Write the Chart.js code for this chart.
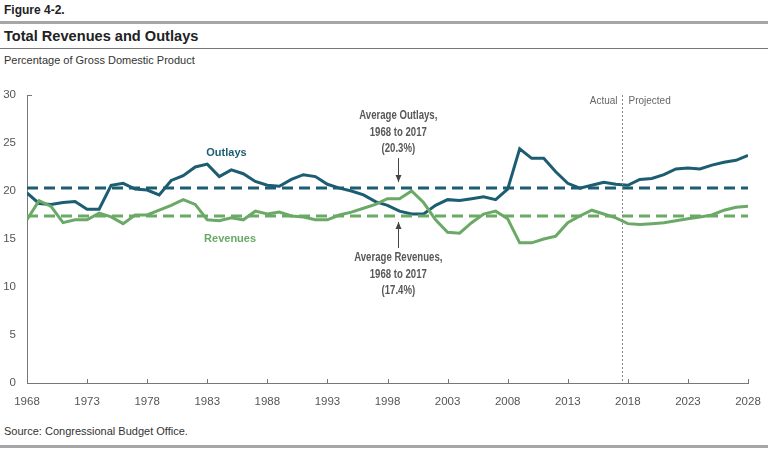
<!DOCTYPE html>
<html>
<head>
<meta charset="utf-8">
<script src="https://cdn.jsdelivr.net/npm/chart.js@4"></script>
<style>
  html, body { margin: 0; padding: 0; background: #fff; }
  body { width: 768px; height: 450px; position: relative; overflow: hidden;
         font-family: "Liberation Sans", Arial, sans-serif; }
  .fig { position: absolute; left: 4px; top: 3px; font-size: 12px; font-weight: bold; color: #222; }
  .rule1 { position: absolute; left: 0; right: 0; top: 21px; height: 3px; background: #a6a6a6; }
  .title { position: absolute; left: 4px; top: 28px; font-size: 14.6px; font-weight: bold; color: #222; }
  .rule2 { position: absolute; left: 0; right: 0; top: 48px; height: 1px; background: #777; }
  .sub { position: absolute; left: 4px; top: 54px; font-size: 11px; color: #333; }
  .src { position: absolute; left: 4px; top: 425px; font-size: 11px; color: #333; }
  .rule3 { position: absolute; left: 0; right: 0; top: 445px; height: 3px; background: #a6a6a6; }
  #c { position: absolute; left: 0; top: 0; }
</style>
</head>
<body>
<div class="fig">Figure 4-2.</div>
<div class="rule1"></div>
<div class="title">Total Revenues and Outlays</div>
<div class="rule2"></div>
<div class="sub">Percentage of Gross Domestic Product</div>
<div class="src">Source: Congressional Budget Office.</div>
<div class="rule3"></div>
<canvas id="c" width="768" height="450"></canvas>
<script>
const years = [1968, 1969, 1970, 1971, 1972, 1973, 1974, 1975, 1976, 1977,
  1978, 1979, 1980, 1981, 1982, 1983, 1984, 1985, 1986, 1987,
  1988, 1989, 1990, 1991, 1992, 1993, 1994, 1995, 1996, 1997,
  1998, 1999, 2000, 2001, 2002, 2003, 2004, 2005, 2006, 2007,
  2008, 2009, 2010, 2011, 2012, 2013, 2014, 2015, 2016, 2017,
  2018, 2019, 2020, 2021, 2022, 2023, 2024, 2025, 2026, 2027, 2028];

const outlays = [19.8, 18.7, 18.6, 18.8, 18.9, 18.1, 18.1, 20.6, 20.8, 20.2,
  20.1, 19.6, 21.1, 21.6, 22.5, 22.8, 21.5, 22.2, 21.8, 21.0,
  20.6, 20.5, 21.2, 21.7, 21.5, 20.7, 20.3, 20.0, 19.6, 18.9,
  18.5, 17.9, 17.6, 17.6, 18.5, 19.1, 19.0, 19.2, 19.4, 19.1,
  20.2, 24.4, 23.4, 23.4, 22.0, 20.8, 20.3, 20.6, 20.9, 20.7,
  20.6, 21.2, 21.3, 21.7, 22.3, 22.4, 22.3, 22.7, 23.0, 23.2, 23.7];

const revenues = [17.0, 19.0, 18.4, 16.7, 17.0, 17.0, 17.7, 17.3, 16.6, 17.5,
  17.5, 18.0, 18.5, 19.1, 18.6, 17.0, 16.9, 17.2, 17.0, 17.9,
  17.6, 17.8, 17.4, 17.3, 17.0, 17.0, 17.5, 17.8, 18.2, 18.6,
  19.2, 19.2, 20.0, 18.8, 17.0, 15.7, 15.6, 16.7, 17.6, 17.9,
  17.1, 14.6, 14.6, 15.0, 15.3, 16.7, 17.4, 18.0, 17.6, 17.2,
  16.6, 16.5, 16.6, 16.7, 16.9, 17.1, 17.3, 17.5, 18.0, 18.3, 18.4];

const avgOutlays = 20.3;
const avgRevenues = 17.4;
const avgSpan = [1968, 2028];
const splitYear = 2017.5;
const yTicks = [0, 5, 10, 15, 20, 25, 30];
const xTicks = [1968, 1973, 1978, 1983, 1988, 1993, 1998, 2003, 2008, 2013, 2018, 2023, 2028];

const BLUE = "#1c5d72";
const GREEN = "#6aa966";
const GREY = "#555";
const FONT = '"Liberation Sans", Arial, sans-serif';

const pts = (vals) => years.map((y, i) => ({ x: y, y: vals[i] }));
const flat = (v) => avgSpan.map((y) => ({ x: y, y: v }));

// narrow text: squeeze horizontally around the anchor point
function narrowText(ctx, s, x, y, sx) {
  ctx.save();
  ctx.translate(x, y);
  ctx.scale(sx, 1);
  ctx.fillText(s, 0, 0);
  ctx.restore();
}

const extras = {
  id: "extras",
  afterDraw(chart) {
    const { ctx } = chart;
    const x = chart.scales.x, y = chart.scales.y;
    ctx.save();
    // small inward ticks
    ctx.strokeStyle = "#777";
    ctx.lineWidth = 1;
    ctx.beginPath();
    xTicks.forEach((t) => {
      const px = Math.round(x.getPixelForValue(t)) + 0.5;
      ctx.moveTo(px, y.bottom);
      ctx.lineTo(px, y.bottom - 4);
    });
    const top = Math.round(y.getPixelForValue(30)) + 0.5;
    ctx.moveTo(x.left, top);
    ctx.lineTo(x.left + 5, top);
    ctx.stroke();

    // actual / projected divider
    const sx = Math.round(x.getPixelForValue(splitYear)) + 0.5;
    ctx.strokeStyle = "#888";
    ctx.setLineDash([2, 2]);
    ctx.beginPath();
    ctx.moveTo(sx, y.getPixelForValue(30));
    ctx.lineTo(sx, y.bottom);
    ctx.stroke();
    ctx.setLineDash([]);
    ctx.font = "10px " + FONT;
    ctx.fillStyle = "#666";
    ctx.textBaseline = "middle";
    ctx.textAlign = "right";
    ctx.fillText("Actual", sx - 5, 101);
    ctx.textAlign = "left";
    ctx.fillText("Projected", sx + 6, 101);

    // series labels
    ctx.textAlign = "center";
    ctx.font = "bold 11px " + FONT;
    ctx.fillStyle = BLUE;
    ctx.fillText("Outlays", x.getPixelForValue(1984.6), 153);
    ctx.fillStyle = GREEN;
    ctx.fillText("Revenues", x.getPixelForValue(1984.9), 239);

    // average annotations
    const ax = x.getPixelForValue(1998.9);
    ctx.fillStyle = "#585858";
    ctx.font = "bold 12px " + FONT;
    ["Average Outlays,", "1968 to 2017", "(20.3%)"].forEach((s, i) => narrowText(ctx, s, ax, 116 + i * 16.5, 0.8));
    ["Average Revenues,", "1968 to 2017", "(17.4%)"].forEach((s, i) => narrowText(ctx, s, ax, 258 + i * 16.2, 0.8));

    const arrow = (x0, y0, y1) => {
      ctx.strokeStyle = "#444";
      ctx.fillStyle = "#444";
      ctx.lineWidth = 1;
      ctx.beginPath();
      ctx.moveTo(x0, y0);
      ctx.lineTo(x0, y1);
      ctx.stroke();
      const d = y1 > y0 ? 1 : -1;
      ctx.beginPath();
      ctx.moveTo(x0, y1);
      ctx.lineTo(x0 - 3, y1 - d * 7);
      ctx.lineTo(x0 + 3, y1 - d * 7);
      ctx.closePath();
      ctx.fill();
    };
    const axr = Math.round(ax) + 0.5;
    arrow(axr, 158, y.getPixelForValue(avgOutlays) - 6);
    arrow(axr, 248, y.getPixelForValue(avgRevenues) + 6);
    ctx.restore();
  }
};

new Chart(document.getElementById("c"), {
  type: "line",
  data: {
    datasets: [
      { data: flat(avgOutlays), borderColor: BLUE, borderWidth: 3, borderDash: [11, 6], pointRadius: 0 },
      { data: flat(avgRevenues), borderColor: GREEN, borderWidth: 3, borderDash: [11, 6], pointRadius: 0 },
      { data: pts(revenues), borderColor: GREEN, borderWidth: 3, pointRadius: 0, tension: 0 },
      { data: pts(outlays), borderColor: BLUE, borderWidth: 3, pointRadius: 0, tension: 0 }
    ]
  },
  options: {
    responsive: false,
    animation: false,
    events: [],
    layout: { padding: { left: 0, right: 20, top: 95, bottom: 0 } },
    plugins: { legend: { display: false }, tooltip: { enabled: false } },
    scales: {
      x: {
        type: "linear",
        min: 1968,
        max: 2028,
        afterBuildTicks: (s) => { s.ticks = xTicks.map((v) => ({ value: v })); },
        afterFit: (s) => { s.height = 67; s.paddingLeft = 0; s.paddingRight = 0; },
        grid: { display: false, drawTicks: false },
        border: { color: "#777", width: 1 },
        ticks: { color: GREY, font: { family: FONT, size: 11.5 }, padding: 12, maxRotation: 0, callback: (v) => String(v) }
      },
      y: {
        min: 0,
        max: 30,
        afterBuildTicks: (s) => { s.ticks = yTicks.map((v) => ({ value: v })); },
        afterFit: (s) => { s.width = 27; s.paddingTop = 0; s.paddingBottom = 0; },
        grid: { display: false, drawTicks: false },
        border: { color: "#777", width: 1 },
        ticks: { color: GREY, font: { family: FONT, size: 11.5 }, padding: 11 }
      }
    }
  },
  plugins: [extras]
});
</script>
</body>
</html>
